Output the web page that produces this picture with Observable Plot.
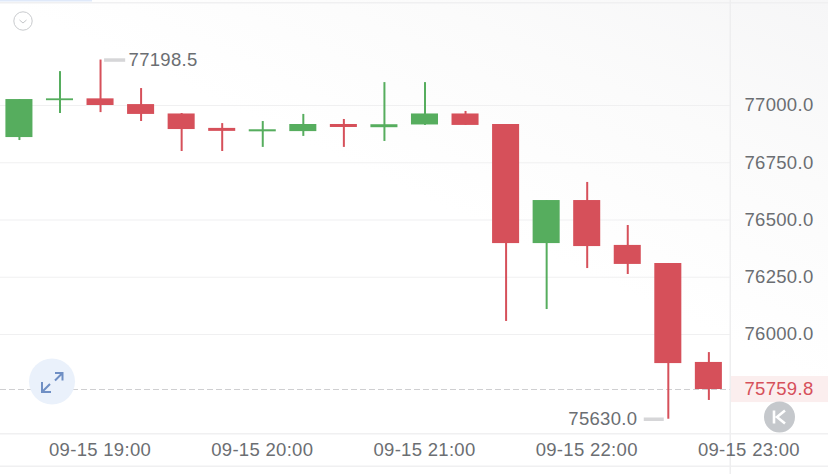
<!DOCTYPE html>
<html>
<head>
<meta charset="utf-8">
<script src="https://cdn.jsdelivr.net/npm/d3@7"></script>
<script src="https://cdn.jsdelivr.net/npm/@observablehq/plot@0.6"></script>
<style>
html,body{margin:0;padding:0;background:#fff;}
svg{display:block;}
</style>
</head>
<body>
<div id="chart"></div>
<script>
const times = ["18:30","18:45","19:00","19:15","19:30","19:45","20:00","20:15","20:30","20:45","21:00","21:15","21:30","21:45","22:00","22:15","22:30","22:45"];
const opens  = [76860,77021,77029,77004,76963,76900,76885,76886,76917,76903,76915,76963,76917,76397,76585,76389,76310,75878];
const closes = [77026,77029,77000,76961,76895,76887,76894,76917,76904,76916,76963,76913,76397,76585,76384,76306,75873,75759.8];
const highs  = [77026,77148,77198.5,77074,76965,76921,76930,76961,76939,77100,77100,76974,76917,76585,76664,76476,76310,75921];
const lows   = [76847,76965,76969,76930,76799,76799,76817,76865,76817,76843,76913,76913,76057,76109,76288,76262,75630,75712];
const priceTicks = [76000,76250,76500,76750,77000];
const timeTicks = ["19:00","20:00","21:00","22:00","23:00"];
const lastPrice = 75759.8;
const maxPrice = 77198.5;
const minPrice = 75630.0;

const at = (s, extraMin = 0) => new Date(Date.parse(`2021-09-15T${s}:00Z`) + extraMin * 60000);
const candles = times.map((t, i) => ({t: at(t), open: opens[i], close: closes[i], high: highs[i], low: lows[i]}));
const green = "#56ad5e", red = "#d6505a";
const color = d => d.close >= d.open ? green : red;
const textColor = "#6b6e72";
const font = "'Liberation Sans', Arial, sans-serif";
const xEnd = at("22:53");
const panelEnd = at("23:30");
const fmtTime = d3.utcFormat("%m-%d %H:%M");

function chrome() {
  const g = d3.create("svg:g");
  g.append("rect").attr("x",0).attr("y",2).attr("width",828).attr("height",1.5).attr("fill","#f0f0f1");
  g.append("rect").attr("x",0).attr("y",0).attr("width",92).attr("height",1.5).attr("fill","#dfe9fa");
  g.append("rect").attr("x",0).attr("y",433).attr("width",828).attr("height",1.5).attr("fill","#f0f0f1");
  g.append("rect").attr("x",0).attr("y",465.5).attr("width",828).attr("height",1.5).attr("fill","#f0f0f1");
  g.append("rect").attr("x",729.5).attr("y",0).attr("width",1.5).attr("height",474).attr("fill","#eeeeef");
  // collapse button
  g.append("circle").attr("cx",23).attr("cy",21).attr("r",9.2).attr("fill","none").attr("stroke","#c9cbce").attr("stroke-width",1);
  g.append("path").attr("d","M19.5 20 L23 23 L26.5 20").attr("fill","none").attr("stroke","#c4c6c9").attr("stroke-width",1);
  // expand button
  g.append("circle").attr("cx",52).attr("cy",381.5).attr("r",23).attr("fill","#eaf1fb");
  g.append("path").attr("d","M55 373 H62.5 V380.5 M62 373.5 L55 380.5 M42 382 V392 H51 M42.5 391.5 L50 384")
    .attr("fill","none").attr("stroke","#6f8fc4").attr("stroke-width",2);
  // return button
  g.append("circle").attr("cx",779.5).attr("cy",417).attr("r",15.5).attr("fill","#c5c8cc");
  g.append("path").attr("d","M774 410.5 V423.5 M785 410.5 L777 417 L785 423.5")
    .attr("fill","none").attr("stroke","#fff").attr("stroke-width",2.6);
  return g.node();
}

const textOpts = {fill: textColor, fontSize: 18.5, fontFamily: font};

const plot = Plot.plot({
  width: 828,
  height: 474,
  marginTop: 0,
  marginLeft: 0,
  marginRight: 98,
  marginBottom: 41,
  style: {
    fontFamily: font,
    background: "linear-gradient(205deg,#f6f6f7 0%,#fbfbfb 22%,#ffffff 45%)",
    letterSpacing: "0.3px"
  },
  x: {type: "utc", domain: [at("18:23"), xEnd], range: [0, 730]},
  y: {domain: [75567.7, 77458.5], range: [433, 0]},
  marks: [
    Plot.rect([lastPrice], {x1: xEnd, x2: panelEnd, y1: lastPrice - 57, y2: lastPrice + 57, fill: "#fbeeee"}),
    Plot.gridY(priceTicks, {stroke: "#f0f0f1", strokeOpacity: 1, strokeWidth: 1.2}),
    Plot.ruleY([lastPrice], {stroke: "#cfcfd1", strokeWidth: 1, strokeDasharray: "6,3"}),
    chrome,
    Plot.ruleX(candles, {x: "t", y1: "low", y2: "high", stroke: color, strokeWidth: 2}),
    Plot.rect(candles, {
      x1: d => new Date(+d.t - 5 * 60000),
      x2: d => new Date(+d.t + 5 * 60000),
      y1: "open", y2: "close", fill: color
    }),
    Plot.ruleY([maxPrice], {x1: at("19:00", 1.5), x2: at("19:00", 9.3), stroke: "#d6d6d8", strokeWidth: 3.5}),
    Plot.text([maxPrice], {...textOpts, x: at("19:00"), y: d => d, text: d => d.toFixed(1), dx: 28, textAnchor: "start"}),
    Plot.ruleY([minPrice], {x1: at("22:30", -8.9), x2: at("22:30", -1.5), stroke: "#d6d6d8", strokeWidth: 3.5}),
    Plot.text([minPrice], {...textOpts, x: at("22:30"), y: d => d, text: d => d.toFixed(1), dx: -31, textAnchor: "end"}),
    Plot.text([lastPrice], {...textOpts, fill: red, x: xEnd, y: d => d, text: d => d.toFixed(1), dx: 14, textAnchor: "start"}),
    Plot.axisY({anchor: "right", ticks: priceTicks, tickSize: 0, tickPadding: 14, label: null, tickFormat: d => d.toFixed(1), fontSize: 18.5, color: textColor}),
    Plot.axisX({ticks: timeTicks.map(s => at(s)), tickSize: 0, tickPadding: 9, dx: -0.5, label: null, tickFormat: fmtTime, fontSize: 18.5, color: textColor, textAnchor: "middle"})
  ]
});
document.getElementById("chart").append(plot);
</script>
</body>
</html>
